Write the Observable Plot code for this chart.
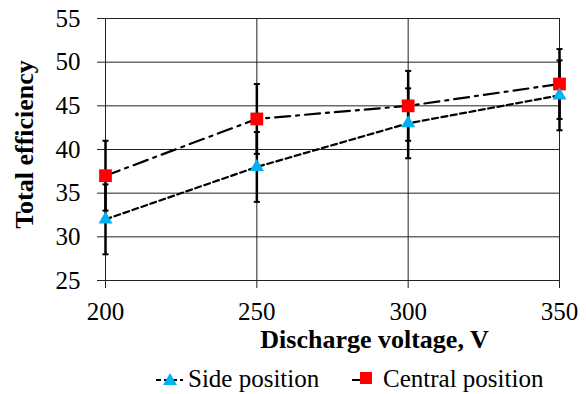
<!DOCTYPE html>
<html><head><meta charset="utf-8">
<script src="https://cdn.jsdelivr.net/npm/d3@7"></script>
<script src="https://cdn.jsdelivr.net/npm/@observablehq/plot@0.6"></script>
<style>
body{margin:0;background:#fff;font-family:"Liberation Serif",serif;}
#wrap{position:relative;width:586px;height:394px;overflow:hidden;}
#chart svg{display:block;}
#legendSvg{position:absolute;left:0;top:362px;}
.lt{position:absolute;top:366px;font-size:25px;line-height:25px;white-space:nowrap;color:#000;font-family:"Liberation Serif",serif;}
</style></head><body><div id="wrap"><div id="chart"></div></div>
<script>
const voltages = [200, 250, 300, 350];
const sideValues = [32, 38, 43, 46.2];
const centralValues = [37, 43.5, 45, 47.5];
const sideError = [4, 4, 4, 4];
const centralError = [4, 4, 4, 4];
const yTicks = [25, 30, 35, 40, 45, 50, 55];
const xTicks = [200, 250, 300, 350];
const seriesNames = ["Side position", "Central position"];
const xTitle = "Discharge voltage, V";
const yTitle = "Total efficiency";

const side = voltages.map((v, i) => ({x: v, y: sideValues[i], e: sideError[i]}));
const central = voltages.map((v, i) => ({x: v, y: centralValues[i], e: centralError[i]}));
const both = [...side, ...central];
const capHalf = 1;

const chart = Plot.plot({
  width: 586, height: 362,
  marginTop: 18, marginBottom: 82, marginLeft: 105, marginRight: 27,
  style: {fontFamily: "Liberation Serif", fontSize: "25px", background: "#fff"},
  x: {domain: [200, 350], ticks: xTicks},
  y: {domain: [25, 55], ticks: yTicks},
  marks: [
    Plot.gridY(yTicks, {stroke: "#222", strokeOpacity: 1, strokeWidth: 1}),
    Plot.gridX(xTicks, {stroke: "#222", strokeOpacity: 1, strokeWidth: 1}),
    Plot.axisY(yTicks, {tickSize: 8, tickPadding: 17, stroke: "#222", fill: "#000", fontSize: 25, label: null}),
    Plot.axisX(xTicks, {tickSize: 8, tickPadding: 14, stroke: "#222", fill: "#000", fontSize: 25, label: null}),
    Plot.ruleX(both, {x: "x", y1: d => d.y - d.e, y2: d => d.y + d.e, stroke: "#000", strokeWidth: 2.5}),
    Plot.link(both, {x1: d => d.x - capHalf, x2: d => d.x + capHalf, y1: d => d.y - d.e, y2: d => d.y - d.e, stroke: "#000", strokeWidth: 2}),
    Plot.link(both, {x1: d => d.x - capHalf, x2: d => d.x + capHalf, y1: d => d.y + d.e, y2: d => d.y + d.e, stroke: "#000", strokeWidth: 2}),
    Plot.line(side, {x: "x", y: "y", stroke: "#000", strokeWidth: 2.2, strokeDasharray: "6,3.5"}),
    Plot.line(central, {x: "x", y: "y", stroke: "#000", strokeWidth: 2.2, strokeDasharray: "15,6,3,6"}),
    Plot.dot(central, {x: "x", y: "y", symbol: "square", r: 7.2, fill: "#FF0000", stroke: "none"}),
    Plot.dot(side, {x: "x", y: "y", symbol: "triangle", r: 5.2, fill: "#00B0F0", stroke: "none"}),
    Plot.text([xTitle], {text: d => d, frameAnchor: "bottom", textAnchor: "middle", lineAnchor: "middle", dx: 42, dy: 59, fontSize: 26, fontWeight: "bold", fill: "#000"}),
    Plot.text([yTitle], {text: d => d, frameAnchor: "left", textAnchor: "middle", lineAnchor: "middle", dx: -81, dy: -5, rotate: -90, fontSize: 26, fontWeight: "bold", fill: "#000"})
  ]
});
const wrap = document.getElementById("wrap");
document.getElementById("chart").appendChild(chart);

// legend: symbols in svg, names as HTML text
const lg = d3.select(wrap).append("svg").attr("id", "legendSvg").attr("width", 586).attr("height", 32);
const items = [
  {name: seriesNames[0], x0: 156, x1: 183, cx: 170, dash: "5,3", sym: "triangle", fill: "#00B0F0", tx: 188},
  {name: seriesNames[1], x0: 352, x1: 372, cx: 366, dash: "8,3", sym: "square", fill: "#FF0000", tx: 383}
];
for (const it of items) {
  lg.append("line").attr("x1", it.x0).attr("x2", it.x1).attr("y1", 18).attr("y2", 18)
    .attr("stroke", "#000").attr("stroke-width", 2.2).attr("stroke-dasharray", it.dash);
  const s = it.sym === "triangle" ? d3.symbol(d3.symbolTriangle, Math.PI * 5.2 * 5.2) : d3.symbol(d3.symbolSquare, 144);
  lg.append("path").attr("d", s()).attr("transform", `translate(${it.cx},${it.sym === "triangle" ? 19 : 16})`).attr("fill", it.fill);
  d3.select(wrap).append("div").attr("class", "lt").style("left", it.tx + "px").text(it.name);
}
</script></body></html>
